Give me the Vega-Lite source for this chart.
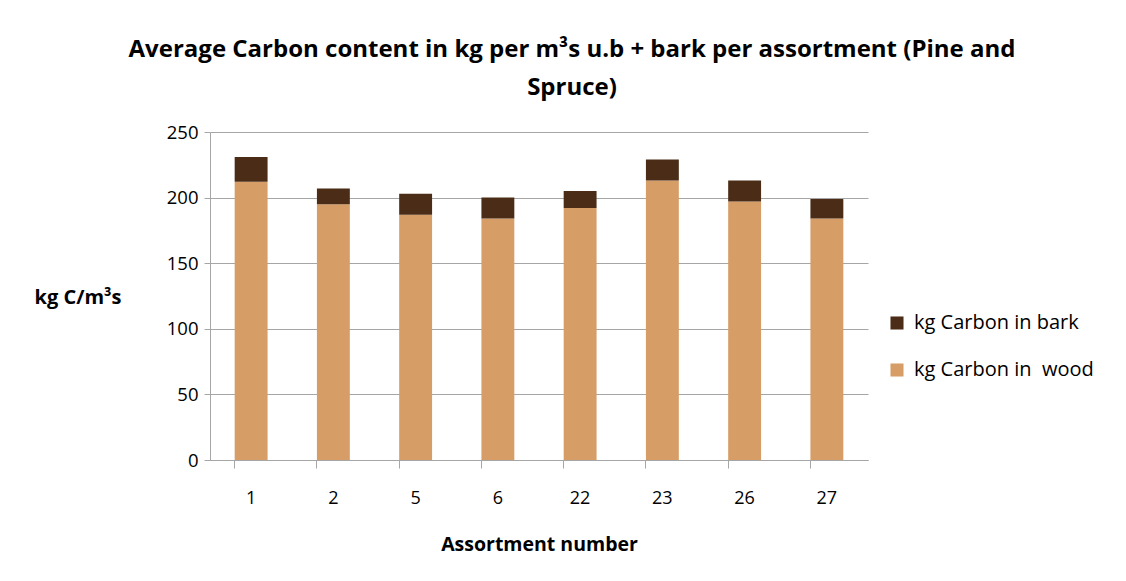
{
  "$schema": "https://vega.github.io/schema/vega-lite/v6.json",
  "width": 658,
  "height": 328,
  "autosize": {"type": "none"},
  "padding": {"left": 210, "top": 132, "right": 258, "bottom": 121},
  "background": "white",
  "title": {
    "text": ["Average Carbon content in kg per m³s u.b + bark per assortment (Pine and", "Spruce)"],
    "font": "Open Sans",
    "fontSize": 24,
    "fontWeight": "bold",
    "color": "#000000",
    "lineHeight": 38,
    "anchor": "middle",
    "dx": 33,
    "offset": 23
  },
  "data": {
    "values": [
      {"assortment": "1", "component": "kg Carbon in  wood", "value": 212},
      {"assortment": "1", "component": "kg Carbon in bark", "value": 19},
      {"assortment": "2", "component": "kg Carbon in  wood", "value": 195},
      {"assortment": "2", "component": "kg Carbon in bark", "value": 12},
      {"assortment": "5", "component": "kg Carbon in  wood", "value": 187},
      {"assortment": "5", "component": "kg Carbon in bark", "value": 16},
      {"assortment": "6", "component": "kg Carbon in  wood", "value": 184},
      {"assortment": "6", "component": "kg Carbon in bark", "value": 16},
      {"assortment": "22", "component": "kg Carbon in  wood", "value": 192},
      {"assortment": "22", "component": "kg Carbon in bark", "value": 13},
      {"assortment": "23", "component": "kg Carbon in  wood", "value": 213},
      {"assortment": "23", "component": "kg Carbon in bark", "value": 16},
      {"assortment": "26", "component": "kg Carbon in  wood", "value": 197},
      {"assortment": "26", "component": "kg Carbon in bark", "value": 16},
      {"assortment": "27", "component": "kg Carbon in  wood", "value": 184},
      {"assortment": "27", "component": "kg Carbon in bark", "value": 15}
    ]
  },
  "mark": {"type": "bar"},
  "encoding": {
    "x": {
      "field": "assortment",
      "type": "ordinal",
      "sort": ["1", "2", "5", "6", "22", "23", "26", "27"],
      "scale": {"paddingInner": 0.6, "paddingOuter": 0.3},
      "axis": {
        "title": "Assortment number",
        "titleFont": "Open Sans",
        "titleFontSize": 19.5,
        "titleFontWeight": "bold",
        "titleColor": "#000000",
        "titlePadding": 28,
        "labelAngle": 0,
        "labelFont": "Open Sans",
        "labelFontSize": 18,
        "labelColor": "#000000",
        "labelPadding": 21,
        "bandPosition": 0,
        "tickSize": 8,
        "tickColor": "#a6a6a6",
        "domainColor": "#a6a6a6",
        "grid": false
      }
    },
    "y": {
      "field": "value",
      "type": "quantitative",
      "aggregate": "sum",
      "stack": "zero",
      "scale": {"domain": [0, 250]},
      "axis": {
        "title": "kg C/m³s",
        "titleAngle": 0,
        "titleAlign": "left",
        "titleBaseline": "middle",
        "titleX": -176,
        "titleY": 165,
        "titleFont": "Open Sans",
        "titleFontSize": 20,
        "titleFontWeight": "bold",
        "titleColor": "#000000",
        "values": [0, 50, 100, 150, 200, 250],
        "labelFont": "Open Sans",
        "labelFontSize": 18.5,
        "labelColor": "#000000",
        "labelPadding": 6,
        "tickSize": 6,
        "tickColor": "#a6a6a6",
        "domainColor": "#a6a6a6",
        "gridColor": "#a6a6a6"
      }
    },
    "color": {
      "field": "component",
      "type": "nominal",
      "scale": {
        "domain": ["kg Carbon in bark", "kg Carbon in  wood"],
        "range": ["#4a2c17", "#d69d67"]
      },
      "legend": {
        "title": null,
        "orient": "none",
        "legendX": 677,
        "legendY": 181,
        "symbolType": "square",
        "symbolSize": 170,
        "labelFont": "Open Sans",
        "labelFontSize": 20,
        "labelLimit": 400,
        "labelColor": "#000000",
        "rowPadding": 27,
        "labelOffset": 7,
        "labelExpr": "replace(datum.label, '  ', '\u00a0 ')"
      }
    },
    "order": {"field": "component", "sort": "ascending"}
  },
  "config": {
    "view": {"stroke": null}
  }
}
